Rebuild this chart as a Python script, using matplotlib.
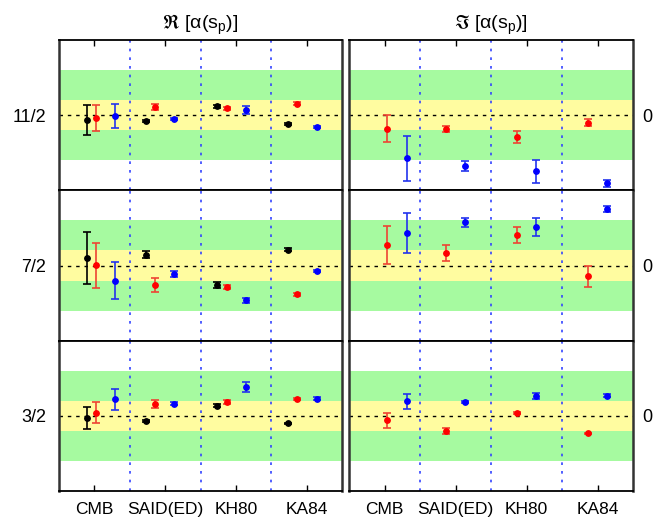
import numpy as np
import matplotlib
matplotlib.use("Agg")
import matplotlib.pyplot as plt

plt.rcParams["font.family"] = ["Liberation Sans", "DejaVu Sans"]
plt.rcParams["mathtext.fontset"] = "custom"
plt.rcParams["mathtext.rm"] = "Liberation Sans"
plt.rcParams["mathtext.it"] = "Liberation Sans:italic"
plt.rcParams["mathtext.fallback"] = "stixsans"

# ── data (deviation from reference value, yellow band = +-1) ────────────────
groups = ["CMB", "SAID(ED)", "KH80", "KA84"]
rows = ["11/2", "7/2", "3/2"]

x_black = [0.89, 1.73, 2.73, 3.74]
x_red = [1.02, 1.86, 2.87, 3.87]
x_blue = [1.29, 2.13, 3.14, 4.14]
x_red_im = [1.04, 1.86, 2.87, 3.86]
x_blue_im = [1.31, 2.13, 3.13, 4.13]

re_black = [[-0.33, -0.38, 0.58, -0.58], [0.49, 0.71, -1.29, 1.05], [-0.13, -0.33, 0.70, -0.49]]
re_black_err = [[0.98, 0.08, 0.08, 0.08], [1.70, 0.23, 0.23, 0.10], [0.73, 0.05, 0.08, 0.05]]
re_red = [[-0.20, 0.53, 0.44, 0.76], [0.02, -1.31, -1.40, -1.89], [0.22, 0.81, 0.94, 1.14]]
re_red_err = [[0.85, 0.18, 0.10, 0.08], [1.48, 0.47, 0.13, 0.10], [0.69, 0.26, 0.12, 0.08]]
re_blue = [[-0.07, -0.25, 0.33, -0.78], [-1.00, -0.58, -2.31, -0.38], [1.11, 0.83, 1.94, 1.16]]
re_blue_err = [[0.78, 0.08, 0.24, 0.08], [1.22, 0.20, 0.15, 0.07], [0.72, 0.12, 0.32, 0.10]]

im_red = [[-0.91, -0.91, -1.47, -0.51], [1.36, 0.82, 2.04, -0.71], [-0.29, -0.98, 0.22, -1.16]]
im_red_err = [[0.88, 0.21, 0.38, 0.23], [1.24, 0.54, 0.52, 0.69], [0.52, 0.20, 0.06, 0.05]]
im_blue = [[-2.89, -3.40, -3.76, -4.56], [2.16, 2.87, 2.53, 3.76], [0.98, 0.93, 1.33, 1.36]]
im_blue_err = [[1.51, 0.36, 0.79, 0.24], [1.33, 0.30, 0.59, 0.21], [0.52, 0.07, 0.21, 0.10]]

titles = [r"$\Re\ [\mathrm{α(s_p)}]$", r"$\Im\ [\mathrm{α(s_p)}]$"]

c_green = "#a6faa0"
c_yellow = "#fffca0"

fig = plt.figure(figsize=(6.55, 5.19), dpi=100)
W, H = 655.0, 519.0
col_x = [(59, 342), (349, 633)]
row_y = [(40, 190), (190, 341), (341, 491)]


def series(ax, xs, ys, es, mcolor, ecolor):
    ax.errorbar(xs, ys, yerr=es, fmt="none", ecolor=ecolor, elinewidth=1.2,
                capsize=2.6, capthick=1.2, zorder=3)
    ax.plot(xs, ys, "o", color=mcolor, ms=3.9, mec=mcolor, zorder=4)


for r in range(3):
    for c in range(2):
        x0, x1 = col_x[c]
        y0, y1 = row_y[r]
        ax = fig.add_axes([x0 / W, 1 - y1 / H, (x1 - x0) / W, (y1 - y0) / H])
        ax.set_xlim(0.5, 4.5)
        ax.set_ylim(-5, 5)
        ax.axhspan(-3, 3, color=c_green, lw=0, zorder=0)
        ax.axhspan(-1, 1, color=c_yellow, lw=0, zorder=0.5)
        ax.axhline(0, color="black", lw=1.0, ls=(0, (2.5, 3.5)), zorder=1)
        for xv in [1.5, 2.5, 3.5]:
            ax.axvline(xv, color="#3344ff", lw=1.2, ls=(0, (1.6, 3.6)), zorder=1)

        if c == 0:
            series(ax, x_black, re_black[r], re_black_err[r], "black", "black")
            series(ax, x_red, re_red[r], re_red_err[r], "#ff0000", "#ee4433")
            series(ax, x_blue, re_blue[r], re_blue_err[r], "#0000ff", "#2233ee")
        else:
            series(ax, x_red_im, im_red[r], im_red_err[r], "#ff0000", "#ee4433")
            series(ax, x_blue_im, im_blue[r], im_blue_err[r], "#0000ff", "#2233ee")

        ax.set_yticks([0])
        if c == 0:
            ax.set_yticklabels([rows[r]], fontsize=13)
            ax.tick_params(axis="y", length=0, pad=9)
        else:
            ax.yaxis.tick_right()
            ax.set_yticklabels(["0"], fontsize=13)
            ax.tick_params(axis="y", length=0, pad=7)

        ax.set_xticks([1, 2, 3, 4])
        ax.tick_params(axis="x", direction="in", length=4, width=1.0,
                       top=(r == 0), bottom=(r == 2), labelbottom=(r == 2),
                       labelsize=12.5, pad=8)
        if r == 2:
            ax.set_xticklabels(groups)
        for side in ["top", "bottom"]:
            ax.spines[side].set_linewidth(1.3)
            ax.spines[side].set_color("black")
        for side in ["left", "right"]:
            ax.spines[side].set_linewidth(1.8)
            ax.spines[side].set_color("#333333")

        if r == 0:
            ax.set_title(titles[c], fontsize=14, pad=8)

fig.savefig("out.png", dpi=100)
